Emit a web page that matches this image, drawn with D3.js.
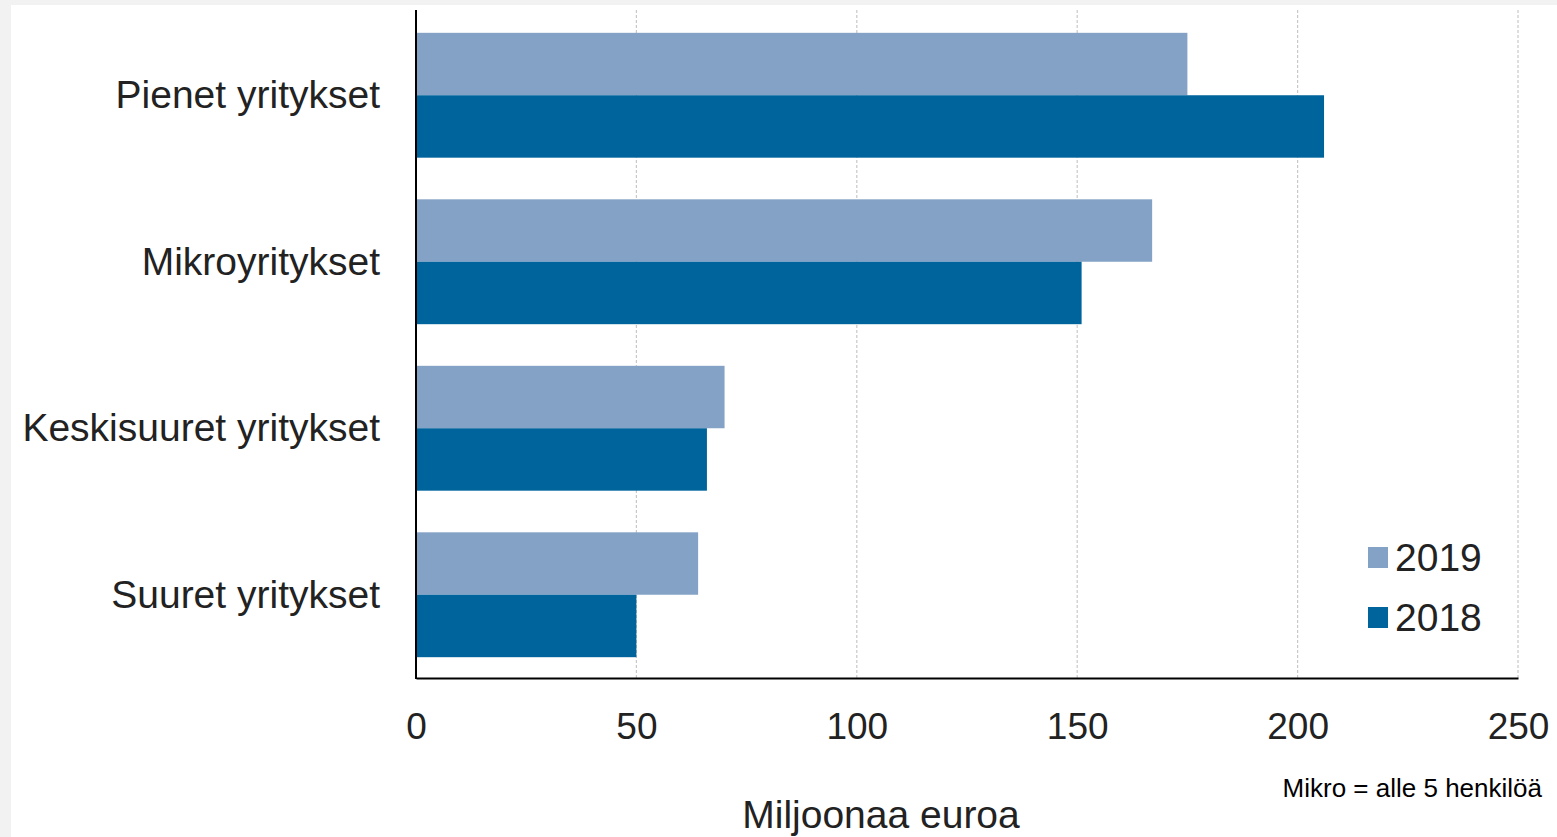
<!DOCTYPE html>
<html><head><meta charset="utf-8">
<script src="https://cdn.jsdelivr.net/npm/d3@7"></script>
<style>
html,body{margin:0;padding:0;background:#f2f2f2;}
svg{display:block;}
text{font-family:"Liberation Sans",Arial,sans-serif;}
</style></head>
<body>
<script>
const categories = ["Pienet yritykset","Mikroyritykset","Keskisuuret yritykset","Suuret yritykset"];
const seriesNames = ["2019","2018"];
const values2019 = [175, 167, 70, 64];
const values2018 = [206, 151, 66, 50];
const xTicks = [0,50,100,150,200,250];
const colors = ["#84a2c6","#00649c"];

const W=1557,H=837;
const svg=d3.select("body").append("svg").attr("width",W).attr("height",H);
svg.append("rect").attr("x",11).attr("y",5).attr("width",W-11).attr("height",H-5).attr("fill","#fff");

const x0=416,x1=1518,yTop=12,yBot=678;
const x=d3.scaleLinear().domain([0,250]).range([x0,x1]);
const y=d3.scaleBand().domain(categories).range([yTop,yBot]).paddingInner(0.25).paddingOuter(0.125);
const ys=d3.scaleBand().domain(seriesNames).range([0,y.bandwidth()]);

// gridlines
svg.append("g").selectAll("line").data(xTicks.slice(1)).join("line")
 .attr("x1",d=>x(d)).attr("x2",d=>x(d)).attr("y1",10).attr("y2",yBot)
 .attr("stroke","#c8c8c8").attr("stroke-width",1.2).attr("stroke-dasharray","3,2");

const data=categories.map((c,i)=>({c,vals:[values2019[i],values2018[i]]}));
const g=svg.append("g");
data.forEach(d=>{
  seriesNames.forEach((s,j)=>{
    g.append("rect").attr("x",x(0)).attr("y",y(d.c)+ys(s))
     .attr("width",x(d.vals[j])-x(0)).attr("height",ys.bandwidth()).attr("fill",colors[j]);
  });
});

// axes
const xAxis=d3.axisBottom(x).tickValues(xTicks).tickSize(0);
const ax=svg.append("g").attr("transform",`translate(0,${yBot})`).call(xAxis);
ax.select(".domain").attr("stroke","#000").attr("stroke-width",2);
ax.selectAll("text").attr("font-size",37).attr("fill","#222").attr("font-family","Liberation Sans, Arial, sans-serif").attr("dy",0).attr("y",61);

const yAxis=d3.axisLeft(y).tickSize(0).tickPadding(36);
const ay=svg.append("g").attr("transform",`translate(${x0},0)`).call(yAxis);
ay.select(".domain").remove();
ay.selectAll("text").attr("font-size",39).attr("fill","#222").attr("font-family","Liberation Sans, Arial, sans-serif").attr("dy","0.33em");
svg.append("line").attr("x1",x0).attr("x2",x0).attr("y1",10).attr("y2",yBot+1).attr("stroke","#000").attr("stroke-width",2);

// axis title
svg.append("text").attr("x",881).attr("y",828).attr("text-anchor","middle").attr("font-size",39).attr("fill","#222").text("Miljoonaa euroa");
// footnote
svg.append("text").attr("x",1542).attr("y",797).attr("text-anchor","end").attr("font-size",26).attr("fill","#000").text("Mikro = alle 5 henkilöä");

// legend
const leg=svg.append("g");
seriesNames.forEach((s,j)=>{
  const ly=557+j*60;
  leg.append("rect").attr("x",1368).attr("y",ly-10).attr("width",20).attr("height",21).attr("fill",colors[j]);
  leg.append("text").attr("x",1395).attr("y",ly).attr("dy","0.36em").attr("font-size",39).attr("fill","#222").text(s);
});
</script>
</body></html>
